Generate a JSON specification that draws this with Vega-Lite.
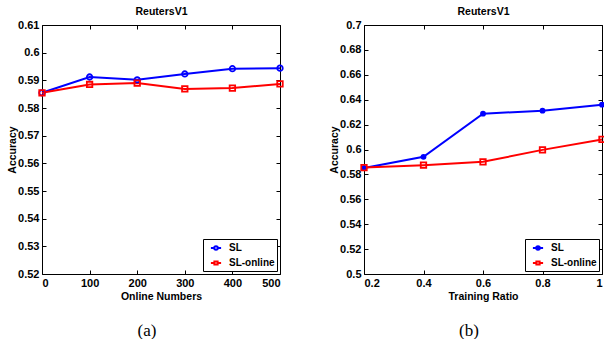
{
  "$schema": "https://vega.github.io/schema/vega-lite/v6.json",
  "padding": {"left": 7, "top": 6, "right": 0, "bottom": 0},
  "background": "white",
  "spacing": 42,
  "resolve": {"scale": {"color": "independent"}, "legend": {"color": "independent"}},
  "config": {
    "font": "Liberation Sans",
    "view": {"stroke": null},
    "axis": {
      "domainColor": "black", "domainWidth": 1, "tickColor": "black", "tickWidth": 1, "tickSize": -4,
      "grid": false, "labelFont": "Liberation Sans", "labelFontSize": 11, "labelFontWeight": "bold",
      "labelColor": "black", "labelPadding": 7, "titleFont": "Liberation Sans", "titleFontSize": 10.5,
      "titleFontWeight": "bold", "titleColor": "black"
    },
    "legend": {
      "orient": "bottom-right", "offset": 3, "strokeColor": "black", "fillColor": "white", "padding": 2,
      "labelFont": "Liberation Sans", "labelFontSize": 10, "labelFontWeight": "bold", "labelColor": "black",
      "symbolSize": 144, "symbolStrokeWidth": 2, "rowPadding": 2, "labelOffset": 6, "symbolOffset": 4, "title": null
    }
  },
  "hconcat": [
    {
      "width": 238, "height": 249,
      "data": {"values": [
        {"x": 0, "acc": 0.5855, "method": "SL"},
        {"x": 100, "acc": 0.5912, "method": "SL"},
        {"x": 200, "acc": 0.5902, "method": "SL"},
        {"x": 300, "acc": 0.5923, "method": "SL"},
        {"x": 400, "acc": 0.5942, "method": "SL"},
        {"x": 500, "acc": 0.5944, "method": "SL"},
        {"x": 0, "acc": 0.5855, "method": "SL-online"},
        {"x": 100, "acc": 0.5885, "method": "SL-online"},
        {"x": 200, "acc": 0.5890, "method": "SL-online"},
        {"x": 300, "acc": 0.5869, "method": "SL-online"},
        {"x": 400, "acc": 0.5872, "method": "SL-online"},
        {"x": 500, "acc": 0.5887, "method": "SL-online"}
      ]},
      "title": {"text": "(a)", "orient": "bottom", "font": "Liberation Serif", "fontSize": 17, "fontWeight": "normal", "color": "black", "offset": 21, "frame": "bounds", "anchor": "middle"},
      "layer": [
        {
          "mark": {"type": "line", "strokeWidth": 2},
          "encoding": {
            "x": {"field": "x", "type": "quantitative", "scale": {"domain": [0, 500]},
                  "axis": {"orient": "bottom", "values": [0, 100, 200, 300, 400, 500], "format": "~f", "title": "Online Numbers", "titlePadding": 3}},
            "y": {"field": "acc", "type": "quantitative", "scale": {"domain": [0.52, 0.61], "zero": false},
                  "axis": {"orient": "left", "values": [0.52, 0.53, 0.54, 0.55, 0.56, 0.57, 0.58, 0.59, 0.6, 0.61], "format": "~f", "title": "Accuracy", "titlePadding": 0}},
            "color": {"field": "method", "type": "nominal", "scale": {"domain": ["SL", "SL-online"], "range": ["#0000ff", "#ff0000"]},
                      "legend": {"encode": {"symbols": {"update": {
                        "shape": {"signal": "datum.value === 'SL' ? 'M-0.85,0H-0.3M0.3,0H0.85M0.3,0A0.3,0.3,0,1,1,-0.3,0A0.3,0.3,0,1,1,0.3,0Z' : 'M-0.85,0H-0.27M0.27,0H0.85M-0.27,-0.27H0.27V0.27H-0.27Z'"},
                        "fill": {"value": "transparent"}}}}}}
          }
        },
        {
          "transform": [{"filter": "datum.method === 'SL'"}],
          "mark": {"type": "point", "filled": false, "strokeWidth": 1.8, "size": 30, "opacity": 1, "shape": "circle", "stroke": "#0000ff"},
          "encoding": {
            "x": {"field": "x", "type": "quantitative", "axis": null},
            "y": {"field": "acc", "type": "quantitative", "axis": null}
          }
        },
        {
          "transform": [{"filter": "datum.method === 'SL-online'"}],
          "mark": {"type": "point", "filled": false, "strokeWidth": 1.8, "size": 30, "opacity": 1, "shape": "square", "stroke": "#ff0000"},
          "encoding": {
            "x": {"field": "x", "type": "quantitative", "axis": null},
            "y": {"field": "acc", "type": "quantitative", "axis": null}
          }
        },
        {
          "mark": {"type": "point", "opacity": 0},
          "encoding": {
            "x": {"field": "x", "type": "quantitative", "axis": {"orient": "top", "values": [0, 100, 200, 300, 400, 500], "labels": false, "title": "ReutersV1", "titlePadding": 8}},
            "y": {"field": "acc", "type": "quantitative", "axis": {"orient": "right", "values": [0.52, 0.53, 0.54, 0.55, 0.56, 0.57, 0.58, 0.59, 0.6, 0.61], "labels": false, "title": null}}
          }
        }
      ],
      "resolve": {"axis": {"x": "independent", "y": "independent"}}
    },
    {
      "width": 238, "height": 249,
      "data": {"values": [
        {"x": 0.2, "acc": 0.5852, "method": "SL"},
        {"x": 0.4, "acc": 0.5941, "method": "SL"},
        {"x": 0.6, "acc": 0.6288, "method": "SL"},
        {"x": 0.8, "acc": 0.6312, "method": "SL"},
        {"x": 1.0, "acc": 0.6360, "method": "SL"},
        {"x": 0.2, "acc": 0.5855, "method": "SL-online"},
        {"x": 0.4, "acc": 0.5874, "method": "SL-online"},
        {"x": 0.6, "acc": 0.5901, "method": "SL-online"},
        {"x": 0.8, "acc": 0.5997, "method": "SL-online"},
        {"x": 1.0, "acc": 0.6081, "method": "SL-online"}
      ]},
      "title": {"text": "(b)", "orient": "bottom", "font": "Liberation Serif", "fontSize": 17, "fontWeight": "normal", "color": "black", "offset": 21, "frame": "bounds", "anchor": "middle"},
      "layer": [
        {
          "mark": {"type": "line", "strokeWidth": 2},
          "encoding": {
            "x": {"field": "x", "type": "quantitative", "scale": {"domain": [0.2, 1]},
                  "axis": {"orient": "bottom", "values": [0.2, 0.4, 0.6, 0.8, 1], "format": "~f", "title": "Training Ratio", "titlePadding": 3}},
            "y": {"field": "acc", "type": "quantitative", "scale": {"domain": [0.5, 0.7], "zero": false},
                  "axis": {"orient": "left", "values": [0.5, 0.52, 0.54, 0.56, 0.58, 0.6, 0.62, 0.64, 0.66, 0.68, 0.7], "format": "~f", "title": "Accuracy", "titlePadding": 0}},
            "color": {"field": "method", "type": "nominal", "scale": {"domain": ["SL", "SL-online"], "range": ["#0000ff", "#ff0000"]},
                      "legend": {"encode": {"symbols": {"update": {
                        "shape": {"signal": "datum.value === 'SL' ? 'M-0.85,0H0.85M0.3,0A0.3,0.3,0,1,1,-0.3,0A0.3,0.3,0,1,1,0.3,0Z' : 'M-0.85,0H-0.27M0.27,0H0.85M-0.27,-0.27H0.27V0.27H-0.27Z'"},
                        "fill": {"signal": "datum.value === 'SL' ? '#0000ff' : 'transparent'"}}}}}}
          }
        },
        {
          "transform": [{"filter": "datum.method === 'SL'"}],
          "mark": {"type": "point", "filled": true, "size": 34, "opacity": 1, "shape": "circle", "color": "#0000ff"},
          "encoding": {
            "x": {"field": "x", "type": "quantitative", "axis": null},
            "y": {"field": "acc", "type": "quantitative", "axis": null}
          }
        },
        {
          "transform": [{"filter": "datum.method === 'SL-online'"}],
          "mark": {"type": "point", "filled": false, "strokeWidth": 1.8, "size": 30, "opacity": 1, "shape": "square", "stroke": "#ff0000"},
          "encoding": {
            "x": {"field": "x", "type": "quantitative", "axis": null},
            "y": {"field": "acc", "type": "quantitative", "axis": null}
          }
        },
        {
          "mark": {"type": "point", "opacity": 0},
          "encoding": {
            "x": {"field": "x", "type": "quantitative", "axis": {"orient": "top", "values": [0.2, 0.4, 0.6, 0.8, 1], "labels": false, "title": "ReutersV1", "titlePadding": 8}},
            "y": {"field": "acc", "type": "quantitative", "axis": {"orient": "right", "values": [0.5, 0.52, 0.54, 0.56, 0.58, 0.6, 0.62, 0.64, 0.66, 0.68, 0.7], "labels": false, "title": null}}
          }
        }
      ],
      "resolve": {"axis": {"x": "independent", "y": "independent"}}
    }
  ]
}
